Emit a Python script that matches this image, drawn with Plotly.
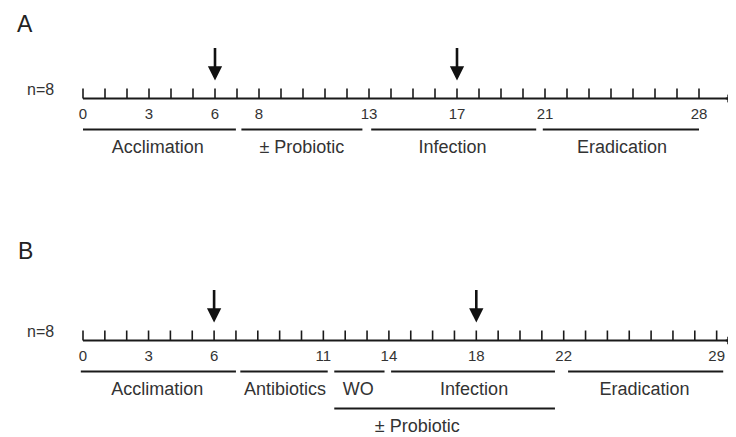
import plotly.graph_objects as go

# ---------------- data ----------------
# Panel A
a_days = list(range(0, 29))
a_tick_labels = ["0", "3", "6", "8", "13", "17", "21", "28"]
a_tick_label_days = [0, 3, 6, 8, 13, 17, 21, 28]
a_phase_names = ["Acclimation", "± Probiotic", "Infection", "Eradication"]
a_phase_start = [0.0, 7.2, 13.1, 20.9]
a_phase_end = [6.95, 12.7, 20.6, 28.0]
a_phase_label_day = [3.4, 9.95, 16.8, 24.5]
a_arrow_days = [6, 17]

# Panel B
b_days = list(range(0, 30))
b_tick_labels = ["0", "3", "6", "11", "14", "18", "22", "29"]
b_tick_label_days = [0, 3, 6, 11, 14, 18, 22, 29]
b_phase_names = ["Acclimation", "Antibiotics", "WO", "Infection", "Eradication"]
b_phase_start = [-0.1, 7.2, 11.5, 14.1, 22.2]
b_phase_end = [7.0, 11.2, 13.8, 21.6, 29.3]
b_phase_label_day = [3.4, 9.25, 12.6, 17.9, 25.7]
b_sub_name = "± Probiotic"
b_sub_start, b_sub_end, b_sub_label_day = 11.5, 21.6, 15.3
b_arrow_days = [6, 18]

group_label = "n=8"
panel_letters = ["A", "B"]

# ---------------- layout constants ----------------
W, H = 736, 437          # browser window
OFF = 8                  # default page body margin
FW, FH = W - OFF, H - OFF
FONT = "Liberation Sans, Arial, sans-serif"
TXT = "#333333"
LINE = "#1a1a1a"

fig = go.Figure()


def panel(xref, days, tl_days, tl_labels, ph_s, ph_e, ph_lab_d, ph_names,
          arrows, y_axis, end_day, letter, letter_y, extra=None):
    xa = xref
    fig.add_trace(go.Scatter(x=[days[0], end_day], y=[y_axis, y_axis], mode="lines",
                             line=dict(color=LINE, width=2), xaxis=xa, yaxis="y",
                             hoverinfo="skip", showlegend=False))
    tx, ty = [], []
    for d in days:
        tx += [d, d, None]
        ty += [y_axis, y_axis - 10, None]
    fig.add_trace(go.Scatter(x=tx, y=ty, mode="lines", line=dict(color=LINE, width=1.6),
                             xaxis=xa, yaxis="y", hoverinfo="skip", showlegend=False))
    fig.add_trace(go.Scatter(x=tl_days, y=[y_axis + 17] * len(tl_days), mode="text",
                             text=tl_labels, textfont=dict(family=FONT, size=15, color=TXT),
                             xaxis=xa, yaxis="y", hoverinfo="skip", showlegend=False))
    px, py = [], []
    for s, e in zip(ph_s, ph_e):
        px += [s, e, None]
        py += [y_axis + 31, y_axis + 31, None]
    fig.add_trace(go.Scatter(x=px, y=py, mode="lines", line=dict(color=LINE, width=2),
                             xaxis=xa, yaxis="y", hoverinfo="skip", showlegend=False))
    fig.add_trace(go.Scatter(x=ph_lab_d, y=[y_axis + 50] * len(ph_lab_d), mode="text",
                             text=ph_names, textfont=dict(family=FONT, size=18, color=TXT),
                             xaxis=xa, yaxis="y", hoverinfo="skip", showlegend=False))
    if extra:
        s, e, ld, name = extra
        fig.add_trace(go.Scatter(x=[s, e], y=[y_axis + 68, y_axis + 68], mode="lines",
                                 line=dict(color=LINE, width=2), xaxis=xa, yaxis="y",
                                 hoverinfo="skip", showlegend=False))
        fig.add_trace(go.Scatter(x=[ld], y=[y_axis + 87], mode="text", text=[name],
                                 textfont=dict(family=FONT, size=18, color=TXT),
                                 xaxis=xa, yaxis="y", hoverinfo="skip", showlegend=False))
    for d in arrows:
        fig.add_annotation(x=d, y=y_axis - 18, ax=d, ay=y_axis - 52, xref=xref, yref="y",
                           axref=xref, ayref="y", text="", showarrow=True,
                           arrowhead=2, arrowsize=1.1, arrowwidth=2.6, arrowcolor="#111111")
    fig.add_annotation(x=end_day, y=y_axis, ax=end_day - 0.5, ay=y_axis, xref=xref, yref="y",
                       axref=xref, ayref="y", text="", showarrow=True,
                       arrowhead=2, arrowsize=0.8, arrowwidth=2, arrowcolor=LINE)
    fig.add_annotation(x=40, y=y_axis - 9, xref="x3", yref="y",
                       text=group_label, showarrow=False,
                       font=dict(family=FONT, size=16, color=TXT))
    fig.add_annotation(x=25, y=letter_y, xref="x3", yref="y", text=letter, showarrow=False,
                       font=dict(family=FONT, size=23, color="#222222"))


panel("x", a_days, a_tick_label_days, a_tick_labels, a_phase_start, a_phase_end,
      a_phase_label_day, a_phase_names, a_arrow_days, 98.5, 29.65, panel_letters[0], 24)
panel("x2", b_days, b_tick_label_days, b_tick_labels, b_phase_start, b_phase_end,
      b_phase_label_day, b_phase_names, b_arrow_days, 340.5, 29.85, panel_letters[1], 251,
      extra=(b_sub_start, b_sub_end, b_sub_label_day, b_sub_name))

ax_common = dict(visible=False, showgrid=False, zeroline=False, fixedrange=True)
fig.update_layout(
    width=FW, height=FH, margin=dict(l=0, r=0, t=0, b=0),
    paper_bgcolor="white", plot_bgcolor="white", showlegend=False,
    xaxis=dict(range=[(OFF - 83) / 22, (W - 83) / 22], domain=[0, 1], anchor="y", **ax_common),
    xaxis2=dict(range=[(OFF - 83) / 21.85, (W - 83) / 21.85], domain=[0, 1], anchor="y",
                overlaying="x", **ax_common),
    xaxis3=dict(range=[OFF, W], domain=[0, 1], anchor="y", overlaying="x", **ax_common),
    yaxis=dict(range=[H, OFF], domain=[0, 1], **ax_common),
)
fig.add_trace(go.Scatter(x=[OFF], y=[OFF], xaxis="x3", yaxis="y", mode="markers",
                         marker=dict(opacity=0), hoverinfo="skip", showlegend=False))

fig.write_html("out.html")
